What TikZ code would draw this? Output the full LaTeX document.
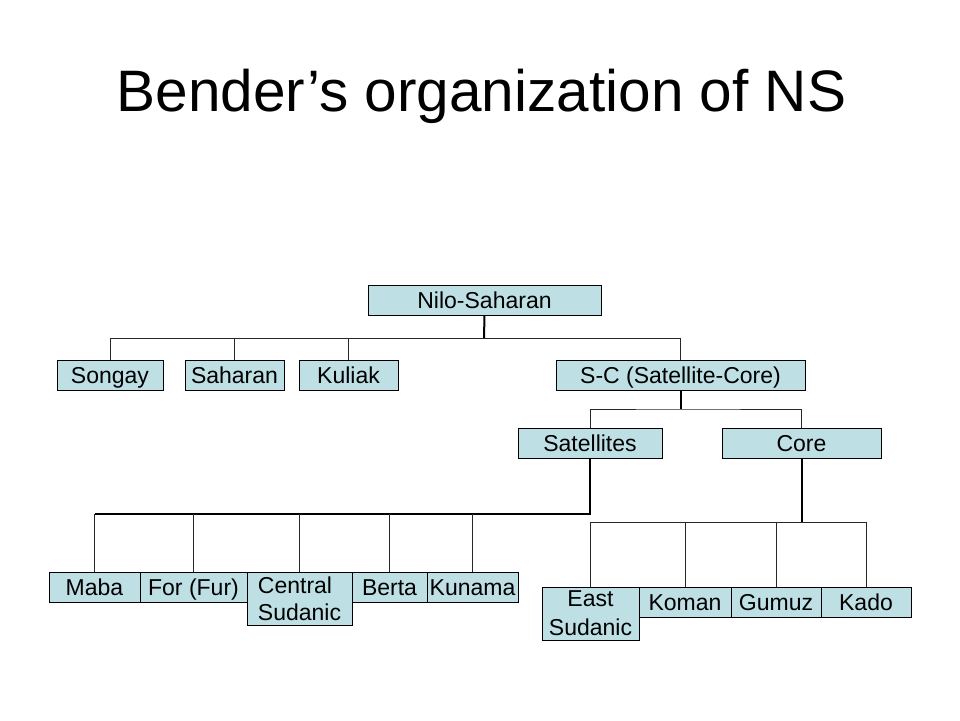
\documentclass[tikz,border=0pt]{standalone}
\usepackage{fontspec}
\setmainfont{Liberation Sans}
\definecolor{boxfill}{RGB}{190,224,228}
\definecolor{linegray}{RGB}{40,40,40}
\begin{document}
\begin{tikzpicture}[x=1pt,y=-1pt,
  box/.style={draw=black, line width=0.9pt, fill=boxfill, inner sep=0pt,
    font=\fontsize{23}{27}\selectfont, minimum height=30pt,
    text height=16.5pt, text depth=0pt},
  twoline/.style={minimum height=53pt, text height=43.5pt, text depth=0pt},
  thin/.style={draw=linegray, line width=1pt},
  thick/.style={draw=black, line width=2pt}]
\useasboundingbox (0,0) rectangle (960,720);
\node[anchor=base, font=\fontsize{58.5}{70}\selectfont] (title) at (481.5,111) {Bender’s organization of NS};

\node[box, minimum width=233pt] (nilo) at (484.5,300) {Nilo-Saharan};
\node[box, minimum width=106pt] (songay) at (110,375) {Songay};
\node[box, minimum width=99pt] (saharan) at (234.5,375) {Saharan};
\node[box, minimum width=99pt] (kuliak) at (348.5,375) {Kuliak};
\node[box, minimum width=249pt] (sc) at (680.5,375) {S-C (Satellite-Core)};
\node[box, minimum width=144pt] (sat) at (590,443) {Satellites};
\node[box, minimum width=159pt] (core) at (801.5,443) {Core};

\node[box, minimum width=91pt] (maba) at (94.5,587) {Maba};
\node[box, minimum width=107pt] (for) at (193.5,587) {For (Fur)};
\node[box, twoline, minimum width=105pt, align=left] (cs) at (299.5,598.5) {Central\\Sudanic};
\node[box, minimum width=75pt] (berta) at (389.5,587) {Berta};
\node[box, minimum width=91pt] (kunama) at (472.5,587) {Kunama};

\node[box, twoline, minimum width=97pt, align=center, font=\fontsize{23}{29}\selectfont] (es) at (590.5,613.5) {East\\Sudanic};
\node[box, minimum width=92pt] (koman) at (685,602) {Koman};
\node[box, minimum width=90pt] (gumuz) at (776,602) {Gumuz};
\node[box, minimum width=90pt] (kado) at (866,602) {Kado};

% level 1
\coordinate (b1) at (484,338);
\draw[thick] (nilo.south) -- (b1);
\draw[thin] (songay.north) |- (b1);
\draw[thin] (b1) -| (sc.north);
\draw[thin] (saharan.north) -- (saharan.north |- b1);
\draw[thin] (kuliak.north) -- (kuliak.north |- b1);

% level 2
\coordinate (b2) at (680.5,409);
\draw[thick] (sc.south) -- (b2);
\draw[thin] (sat.north) |- (b2) -| (core.north);

% satellites
\coordinate (b3) at (590,514);
\draw[thick] (sat.south) -- (b3) -- (maba.north |- b3);
\draw[thin] (maba.north) -- (maba.north |- b3);
\draw[thin] (for.north) -- (for.north |- b3);
\draw[thin] (cs.north) -- (cs.north |- b3);
\draw[thin] (berta.north) -- (berta.north |- b3);
\draw[thin] (kunama.north) -- (kunama.north |- b3);

% core
\coordinate (b4) at (801.5,522);
\draw[thick] (core.south) -- (b4);
\draw[thin] (es.north) |- (b4);
\draw[thin] (b4) -| (kado.north);
\draw[thin] (koman.north) -- (koman.north |- b4);
\draw[thin] (gumuz.north) -- (gumuz.north |- b4);
\end{tikzpicture}
\end{document}
